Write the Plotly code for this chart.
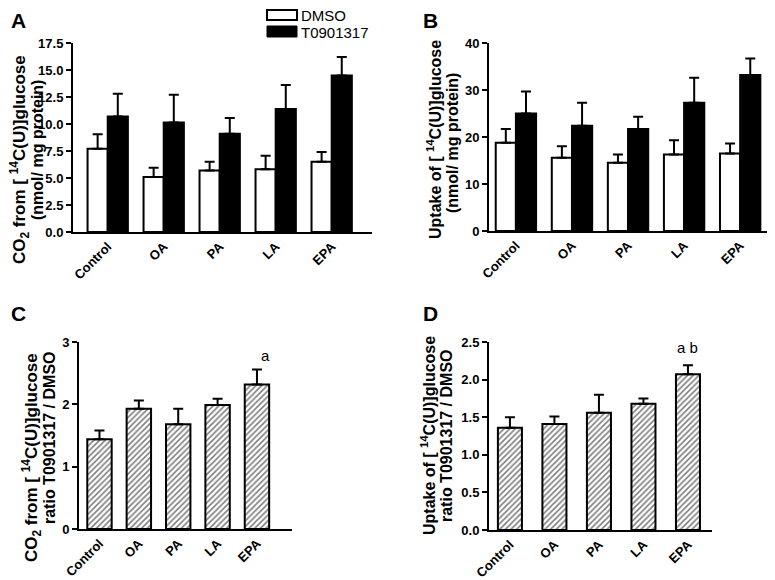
import plotly.graph_objects as go

categories = ['Control', 'OA', 'PA', 'LA', 'EPA']

# A: CO2 from [14C(U)]glucose, nmol/mg protein (mean, SEM)
co2_dmso = [7.7, 5.1, 5.7, 5.8, 6.5]
co2_dmso_sem = [1.35, 0.85, 0.8, 1.25, 0.9]
co2_t09 = [10.7, 10.15, 9.1, 11.4, 14.5]
co2_t09_sem = [2.1, 2.55, 1.45, 2.2, 1.7]

# B: uptake of [14C(U)]glucose, nmol/mg protein
upt_dmso = [18.8, 15.6, 14.5, 16.3, 16.5]
upt_dmso_sem = [2.9, 2.45, 1.8, 3.0, 2.1]
upt_t09 = [25.0, 22.4, 21.7, 27.3, 33.2]
upt_t09_sem = [4.7, 4.9, 2.6, 5.3, 3.5]

# C: CO2 ratio T0901317 / DMSO
co2_ratio = [1.44, 1.93, 1.68, 1.99, 2.32]
co2_ratio_sem = [0.14, 0.13, 0.25, 0.10, 0.24]

# D: uptake ratio T0901317 / DMSO
upt_ratio = [1.36, 1.41, 1.56, 1.68, 2.07]
upt_ratio_sem = [0.14, 0.10, 0.24, 0.07, 0.12]

# the page body has an 8px margin, so the figure is a bit smaller than the window
PAD = 8
W, H = 775 - PAD, 580 - PAD
FONT = 'Liberation Sans, Arial, sans-serif'


def px(x):
    return (x - PAD) / W


def py(y):
    return 1 - (y - PAD) / H


def err(sem):
    return dict(type='data', symmetric=False, array=sem, arrayminus=[0] * len(sem),
                color='black', thickness=2, width=5)


fig = go.Figure()

# panel A
fig.add_trace(go.Bar(x=categories, y=co2_dmso, error_y=err(co2_dmso_sem), name='DMSO',
                     marker=dict(color='white', line=dict(color='black', width=2)),
                     width=0.36, offset=-0.36, xaxis='x', yaxis='y'))
fig.add_trace(go.Bar(x=categories, y=co2_t09, error_y=err(co2_t09_sem), name='T0901317',
                     marker=dict(color='black', line=dict(color='black', width=2)),
                     width=0.36, offset=0, xaxis='x', yaxis='y'))
# panel B
fig.add_trace(go.Bar(x=categories, y=upt_dmso, error_y=err(upt_dmso_sem), name='DMSO',
                     marker=dict(color='white', line=dict(color='black', width=2)),
                     width=0.36, offset=-0.36, xaxis='x2', yaxis='y2'))
fig.add_trace(go.Bar(x=categories, y=upt_t09, error_y=err(upt_t09_sem), name='T0901317',
                     marker=dict(color='black', line=dict(color='black', width=2)),
                     width=0.36, offset=0, xaxis='x2', yaxis='y2'))

hatch = dict(shape='/', fgcolor='black', bgcolor='white', size=4, solidity=0.4)
# panel C
fig.add_trace(go.Bar(x=categories, y=co2_ratio, error_y=err(co2_ratio_sem),
                     marker=dict(color='white', pattern=hatch, line=dict(color='black', width=2)),
                     width=0.62, offset=-0.31, xaxis='x3', yaxis='y3'))
# panel D
fig.add_trace(go.Bar(x=categories, y=upt_ratio, error_y=err(upt_ratio_sem),
                     marker=dict(color='white', pattern=hatch, line=dict(color='black', width=2)),
                     width=0.54, offset=-0.27, xaxis='x4', yaxis='y4'))


def xax(x0, x1, rng, anchor):
    return dict(domain=[px(x0), px(x1)], type='category', range=rng, anchor=anchor,
                automargin=False, showline=True, linecolor='black', linewidth=2, ticks='',
                showgrid=False, tickangle=-45,
                tickfont=dict(family=FONT, size=13, color='black', weight='bold'))


def yax(y0, y1, rng, dtick, fmt, anchor):
    return dict(domain=[py(y1), py(y0)], range=rng, dtick=dtick, tickformat=fmt, anchor=anchor,
                automargin=False, showline=True, linecolor='black', linewidth=2,
                ticks='outside', ticklen=5, tickwidth=2, tickcolor='black',
                showgrid=False, zeroline=False,
                tickfont=dict(family=FONT, size=13, color='black', weight='bold'))


fig.update_layout(
    width=W, height=H, autosize=False, showlegend=False,
    margin=dict(l=0, r=0, t=0, b=0),
    paper_bgcolor='white', plot_bgcolor='white',
    font=dict(family=FONT, color='black'),
    xaxis=xax(73, 372, [-0.62, 4.72], 'y'),
    yaxis=yax(43, 232, [0, 17.5], 2.5, '.1f', 'x'),
    xaxis2=xax(489, 771, [-0.48, 4.55], 'y2'),
    yaxis2=yax(43, 231, [0, 40], 10, 'd', 'x2'),
    xaxis3=xax(79, 292, [-0.52, 4.89], 'y3'),
    yaxis3=yax(342, 529, [0, 3], 1, 'd', 'x3'),
    xaxis4=xax(489, 712, [-0.47, 4.54], 'y4'),
    yaxis4=yax(342, 530, [0, 2.5], 0.5, '.1f', 'x4'),
)

# legend drawn as wide boxes like the original
fig.add_shape(type='rect', xref='paper', yref='paper', x0=px(267), x1=px(297), y0=py(20), y1=py(10),
              line=dict(color='black', width=2), fillcolor='white')
fig.add_shape(type='rect', xref='paper', yref='paper', x0=px(267), x1=px(297), y0=py(37), y1=py(26),
              line=dict(color='black', width=1), fillcolor='black')
for label, yy in [('DMSO', 16), ('T0901317', 32)]:
    fig.add_annotation(text=label, xref='paper', yref='paper', x=px(299), y=py(yy),
                       xanchor='left', yanchor='middle', showarrow=False,
                       font=dict(family=FONT, size=15, color='black'))

# panel letters
for letter, xx, yy in [('A', 18, 21), ('B', 430, 21), ('C', 18, 313), ('D', 430, 313)]:
    fig.add_annotation(text='<b>%s</b>' % letter, xref='paper', yref='paper', x=px(xx), y=py(yy),
                       xanchor='center', yanchor='middle', showarrow=False,
                       font=dict(family=FONT, size=21, color='black'))

# y-axis titles, one annotation per line: (text, x, y, size)
titles = [
    ('CO<sub>2</sub> from [ <sup>14</sup>C(U)]glucose', 19, 160, 17),
    ('(nmol/ mg protein)', 37, 150, 16),
    ('Uptake of [ <sup>14</sup>C(U)]glucose', 434, 140, 16),
    ('(nmol/ mg protein)', 452, 143, 16),
    ('CO<sub>2</sub> from [ <sup>14</sup>C(U)]glucose', 31, 458, 17),
    ('ratio T0901317 / DMSO', 49, 438, 16),
    ('Uptake of [ <sup>14</sup>C(U)]glucose', 428, 436, 16),
    ('ratio T0901317 / DMSO', 446, 436, 16),
]
for text, xx, yy, size in titles:
    fig.add_annotation(text='<b>%s</b>' % text, xref='paper', yref='paper', x=px(xx), y=py(yy),
                       xanchor='center', yanchor='middle', textangle=-90, showarrow=False,
                       font=dict(family=FONT, size=size, color='black'))

# significance marks
fig.add_annotation(text='a', x='EPA', y=2.79, xref='x3', yref='y3', xshift=9, showarrow=False,
                   font=dict(family=FONT, size=15, color='black'))
fig.add_annotation(text='a b', x='EPA', y=2.43, xref='x4', yref='y4', showarrow=False,
                   font=dict(family=FONT, size=15, color='black'))

fig.write_html('out.html')
